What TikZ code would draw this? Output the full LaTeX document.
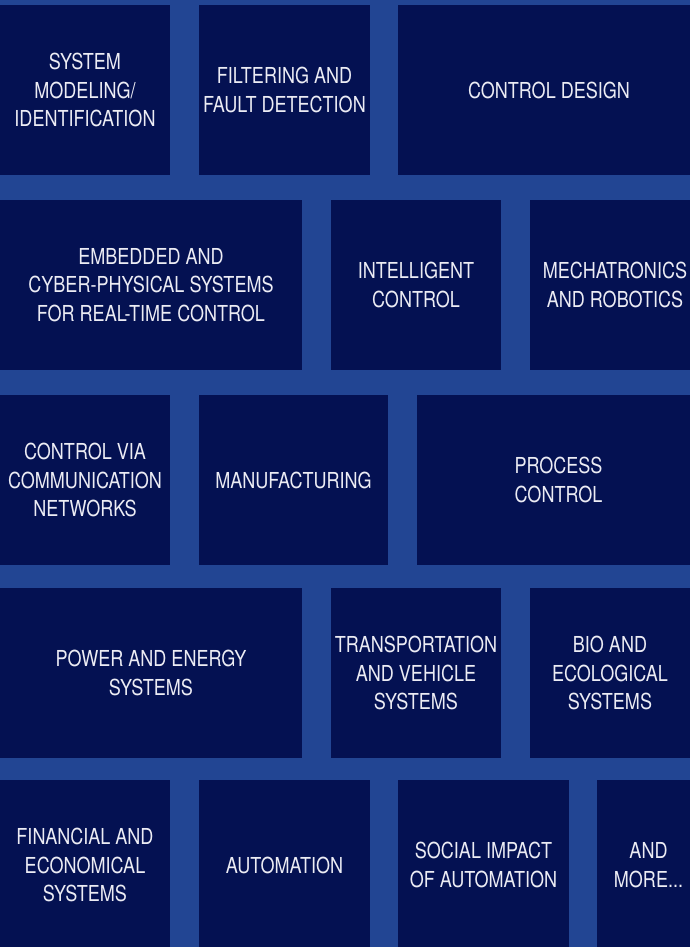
\documentclass[tikz,border=0pt]{standalone}
\usepackage{fontspec}
\setmainfont[FakeStretch=0.82]{TeX Gyre Heros}
\definecolor{bgblue}{RGB}{34,69,147}
\definecolor{tileblue}{RGB}{4,17,82}
\definecolor{tiletext}{RGB}{236,236,244}
\tikzset{
	tile/.style={fill=tileblue, text=tiletext, align=center, inner sep=0pt,
		minimum height=170pt, font=\fontsize{22}{28.5}\selectfont},
}
\begin{document}
\begin{tikzpicture}[x=1pt, y=-1pt]
	
	% 0. Background (page is 690 x 947)
	\useasboundingbox (0,0) rectangle (690,947);
	\clip (0,0) rectangle (690,947);
	\fill[bgblue] (0,0) rectangle (690,947);
	
	% 1. First row
	\node[tile, minimum width=170pt] (sysmod) at (85,90) {SYSTEM\\MODELING/\\IDENTIFICATION};
	\node[tile, minimum width=171pt] (filter) at (284.5,90) {FILTERING AND\\FAULT DETECTION};
	\node[tile, minimum width=302pt] (ctrldesign) at (549,90) {CONTROL DESIGN};
	
	% 2. Second row
	\node[tile, minimum width=302pt] (embedded) at (151,285) {EMBEDDED AND\\CYBER-PHYSICAL SYSTEMS\\FOR REAL-TIME CONTROL};
	\node[tile, minimum width=170pt] (intelligent) at (416,285) {INTELLIGENT\\CONTROL};
	\node[tile, minimum width=170pt] (mechatronics) at (615,285) {MECHATRONICS\\AND ROBOTICS};
	
	% 3. Third row
	\node[tile, minimum width=170pt] (network) at (85,480) {CONTROL VIA\\COMMUNICATION\\NETWORKS};
	\node[tile, minimum width=189pt] (manufacturing) at (293.5,480) {MANUFACTURING};
	\node[tile, minimum width=283pt] (process) at (558.5,480) {PROCESS\\CONTROL};
	
	% 4. Fourth row
	\node[tile, minimum width=302pt] (power) at (151,673) {POWER AND ENERGY\\SYSTEMS};
	\node[tile, minimum width=170pt] (transport) at (416,673) {TRANSPORTATION\\AND VEHICLE\\SYSTEMS};
	\node[tile, minimum width=160pt] (bio) at (610,673) {BIO AND\\ECOLOGICAL\\SYSTEMS};
	
	% 5. Last row (runs off the bottom edge)
	\node[tile, minimum width=170pt] (financial) at (85,865) {FINANCIAL AND\\ECONOMICAL\\SYSTEMS};
	\node[tile, minimum width=171pt] (automation) at (284.5,865) {AUTOMATION};
	\node[tile, minimum width=171pt] (social) at (483.5,865) {SOCIAL IMPACT\\OF AUTOMATION};
	\node[tile, minimum width=103pt] (more) at (648.5,865) {AND\\MORE...};
	
\end{tikzpicture}
\end{document}
